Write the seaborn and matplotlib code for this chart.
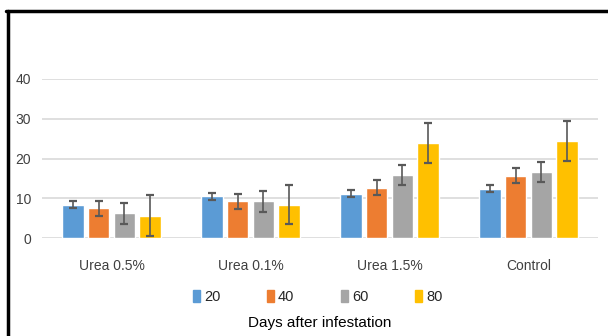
import pandas as pd
import numpy as np
import matplotlib
matplotlib.use('Agg')
import matplotlib.pyplot as plt
import seaborn as sns
from matplotlib.lines import Line2D

treatments = ['Urea 0.5%', 'Urea 0.1%', 'Urea 1.5%', 'Control']
days = ['20', '40', '60', '80']

# mean values per day (rows) for each treatment (columns)
mean_20 = [8.4, 10.5, 11.1, 12.4]
mean_40 = [7.5, 9.2, 12.7, 15.7]
mean_60 = [6.2, 9.2, 15.9, 16.6]
mean_80 = [5.6, 8.4, 23.9, 24.4]

err_20 = [0.9, 0.9, 0.9, 0.85]
err_40 = [1.9, 1.9, 1.9, 1.8]
err_60 = [2.6, 2.7, 2.55, 2.6]
err_80 = [5.1, 5.0, 5.1, 5.1]

colors = ['#5B9BD5', '#ED7D31', '#A5A5A5', '#FFC000']

means = [mean_20, mean_40, mean_60, mean_80]
errs = [err_20, err_40, err_60, err_80]

rows = []
for d, m, e in zip(days, means, errs):
    for t, v, s in zip(treatments, m, e):
        rows.append({'Treatment': t, 'Day': d, 'Value': v, 'Err': s})
df = pd.DataFrame(rows)

sns.set_style('white')
plt.rcParams['font.family'] = ['Liberation Sans', 'DejaVu Sans']

fig = plt.figure(figsize=(6.08, 3.36), dpi=100)
ax = fig.add_axes([42 / 608, 98 / 336, 556 / 608, 159 / 336])

sns.barplot(data=df, x='Treatment', y='Value', hue='Day', palette=colors,
            width=0.74, gap=0.16, errorbar=None, ax=ax, saturation=1)

for container, e in zip(ax.containers, errs):
    xs = [p.get_x() + p.get_width() / 2 for p in container.patches]
    ys = [p.get_height() for p in container.patches]
    ax.errorbar(xs, ys, yerr=e, fmt='none', ecolor='#595959', elinewidth=1.2,
                capsize=3, capthick=1.6, zorder=5)

ax.set_ylim(0, 40)
ax.set_yticks([0, 10, 20, 30, 40])
ax.set_xlim(-0.5, 3.5)
ax.yaxis.grid(True, color='#D9D9D9', linewidth=1.2)
ax.set_axisbelow(True)
for s in ax.spines.values():
    s.set_visible(False)
ax.tick_params(axis='both', length=0, labelsize=10, colors='#404040', pad=8)
ax.tick_params(axis='x', pad=15)
ax.set_ylabel('')
ax.set_xlabel('Days after infestation', fontsize=11, color='#000000', labelpad=31)

handles = [plt.Rectangle((0, 0), 1, 1, color=c) for c in colors]
ax.legend(handles, days, loc='upper center', bbox_to_anchor=(0.496, -0.245),
          ncol=4, frameon=False, handlelength=0.45, handleheight=0.9,
          handletextpad=0.3, columnspacing=3.2, fontsize=10.5)

# frame lines at top and left
fig.add_artist(Line2D([6 / 608, 1], [1 - 11 / 336, 1 - 11 / 336],
                      transform=fig.transFigure, color='black', linewidth=2.5))
fig.add_artist(Line2D([7.5 / 608, 7.5 / 608], [0, 1 - 11 / 336],
                      transform=fig.transFigure, color='black', linewidth=2.5))

fig.savefig('out.png', dpi=100)
